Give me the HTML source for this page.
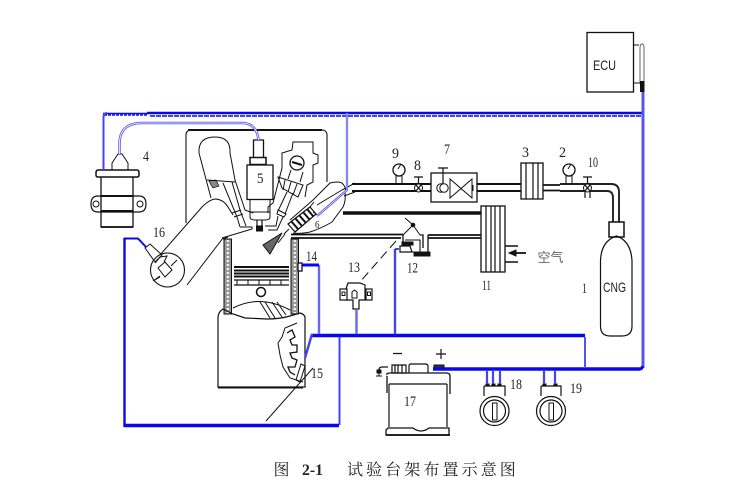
<!DOCTYPE html>
<html><head><meta charset="utf-8"><style>
html,body{margin:0;padding:0;background:#fff;width:752px;height:485px;overflow:hidden}
svg{display:block}
text{font-family:"Liberation Serif","Noto Serif CJK SC",serif;fill:#222}
.s{font-family:"Liberation Sans",sans-serif}
</style></head><body>
<svg width="752" height="485" viewBox="0 0 752 485" xmlns="http://www.w3.org/2000/svg">
<g fill="none" stroke="#111" stroke-width="1">
<!-- ECU -->
<rect x="587" y="32.500" width="46.500" height="59.500" stroke-width="1.300"/>
<path d="M633 45h6M633 83h7"/>
<path d="M640 84V48q0-4 2-4t2 4V84" stroke="#666"/>
<!-- engine head outline -->
<path d="M186 223V135q0-5 6-5H322q4 0 5 4V182" stroke-width="1.100"/>
<path d="M188 130H322" stroke-width="2"/>
<!-- ignition coil -->
<path d="M98 170h39q2 0 2 3v2q0 2-2 2H98q-2 0-2-2v-2q0-3 2-3z" stroke-width="1.500"/>
<path d="M101 177V227H133V177" stroke-width="1.300"/>
<path d="M101 227h32" stroke-width="1.800"/>
<path d="M101 196H139q7 0 7 8t-7 8H98q-7 0-7-8t7-8z" stroke-width="1.200"/>
<path d="M101 196h32M101 211h32" stroke-width="2"/>
<circle cx="96" cy="204" r="3"/><circle cx="140" cy="204" r="3"/>
<path d="M112 170V163L118 154H122L128 163V170"/>
<!-- intake bottle + valve stem -->
<path d="M199 153Q198 137 215 137 231 137 230 153L235 180 245 210 253 213"/>
<path d="M199 153 211 198"/>
<path d="M209 181l7-1 3 6-6 2-2-3z" fill="#888" stroke-width=".7"/>
<path d="M207 180 235 182"/>
<path d="M223 183 237 217 240 227M232 182 240 210 246 226"/>
<path d="M232 213l9-3M234 217l9-3" />
<path d="M240 227H252V229L222 238"/>
<!-- intake tube 16 -->
<path d="M160 255 202 207Q210 199 216 199 224 200 228 207L233 215"/>
<path d="M187 285 223 238"/>
<circle cx="167.500" cy="270" r="17" stroke-width="1.100" fill="#fff"/>
<path d="M158 268 165 262 172 270 165 277ZM155 263 160 257 167 256 164 262M177 260 171 266M160 277 153 281 160 276"/>
<path d="M145 248 150 244 162 255 155 262Z"/>
<!-- injector 5 -->
<path d="M253.500 140V157M263.500 140V157M253 140h11" stroke-width="1.300"/>
<path d="M250 157.500h16v7h-16z" stroke-width="1.500"/>
<rect x="247" y="165" width="26" height="34.500" stroke-width="1.300"/>
<path d="M250 199.500V212H270V199.500M250 212v5q0 3 5 3h10q5 0 5-3v-5"/>
<path d="M257 220V229M262 220V229" stroke-width="1.200"/>
<rect x="256.500" y="226" width="6" height="5" fill="#111"/>
<!-- right head detail -->
<path d="M268 213V207L273 203 282 168V153L292 150 293 142H313V153L318 155V163L313 165V182L307 185 305 197"/>
<circle cx="297" cy="163" r="7" stroke-width="1.300"/>
<path d="M292 162l10 3" stroke-width="2"/>
<path d="M291 170 288 179M303 172 300 182"/>
<path d="M278 177 303 185 298 197 282 188ZM285 180 283 190M291 182 288 192M297 184 293 195"/>
<path d="M287 192 278 211M293 193 285 214"/>
<path d="M278 210l8 4-2 3-7-3z"/>
<path d="M278 216 276 226H265M283 217 277 230H268" />
<!-- plug tube 6 -->
<path d="M290 220 313 200 330 183Q338 181 342 183 347 188 345 193 346 201 343 207L332 222Q322 228 310 232 300 234 293 233" />
<path d="M288 224 310 207 316 214 295 232Z" fill="#fff" stroke-width="1.200"/>
<path d="M291 221l7 8M295 218l7 8M299 215l7 8M303 212l7 8M307 209l6 7" stroke-width="2"/>
<path d="M310 207l4-5M313 212l5 3"/>
<path d="M282 233 263 245 270 254Z" fill="#666"/>
<path d="M284 234 289 229M278 243 285 234"/>
<path d="M317 205 342 190 355 183"/>
<path d="M344 196 355 192"/>
<!-- head lower left -->
<path d="M223 239 228 237" />
<!-- cylinder walls -->
<rect x="224" y="239" width="7.500" height="75" fill="#999" stroke-width="1"/>
<rect x="291" y="239" width="7.500" height="75" fill="#999" stroke-width="1"/>
<path d="M227.800 240V313M294.800 240V313" stroke="#fff" stroke-width="2" stroke-dasharray="2 2"/>
<!-- piston -->
<path d="M234 267H289M234 270.500H289M234 273.500H289M234 276.500H289" stroke-width="1.900"/>
<path d="M234 280H289M234 285H289" stroke-width="1.200"/>
<path d="M237 280v5M248 280v5M259 280v5M270 280v5M281 280v5" stroke-width="1"/>
<circle cx="261" cy="292" r="4.500" stroke-width="1.500"/>
<path d="M233 308Q260 294 290 310"/>
<path d="M260 302 270 318M265 302 275 318M272 302 282 317M277 302 286 315"/>
<!-- block -->
<path d="M223 309Q218 312 218 318V387H305V317Q304 314 300 313L290 316Q280 319 267 319L245 318 233 314Z" stroke-width="1.200"/>
<path d="M218 387.500H303" stroke-width="2"/>
<!-- crank -->
<path d="M297 323 285 328 282 337 278 343 280 355 283 367 290 378 303 382"/>
<path d="M287 333 292 330 295 337 290 340 292 345 297 345 297 352 290 353 292 358 297 360 295 367 288 367 290 372 295 375" stroke-width="1.300"/>
<path d="M296 380 301 364 305 366 300 382Z"/>
<path d="M313 368 266 421"/>
<!-- pipes -->
<path d="M352 184H521M352 191H521" stroke-width="1.900"/>
<path d="M543 185H560M543 190.500H560" stroke-width="1.800"/>
<path d="M560 184H611Q619 184 619 192V222M560 191H607Q613 191 613 198V222" stroke-width="1.900" stroke="#222"/>
<rect x="431" y="173" width="46" height="29" stroke-width="1.300" fill="#fff"/>
<path d="M450 179V198L472 179V198Z" fill="#fff"/>
<path d="M473 185V191"/>
<circle cx="441" cy="188" r="4.200" fill="#fff"/><circle cx="444" cy="188" r="4.200" fill="#fff"/>
<path d="M443 168V184M438 168h10" stroke-width="1.200"/>
<rect x="521" y="163" width="22" height="36" stroke-width="1.300" fill="#fff"/>
<path d="M526 163V199M533 163V199M538 163V199" stroke-width="1.200"/>
<!-- gauges -->
<circle cx="399" cy="170" r="6" stroke-width="1.300" fill="#fff"/><path d="M396 176V184M402 176V184M398 169l3-5"/>
<circle cx="569" cy="170" r="6" stroke-width="1.300" fill="#fff"/><path d="M566 176V184M572 176V184M568 169l3-5"/>
<!-- small valves -->
<circle cx="418.500" cy="188" r="4" fill="#fff"/><path d="M416 185l5 6M421 185l-5 6M418.500 177V184M414 177h9" stroke-width="1.200"/>
<circle cx="587.500" cy="188" r="4" fill="#fff"/><path d="M585 185l5 6M590 185l-5 6M587.500 177V184M583 177h9M585 192v6M590 192v6" stroke-width="1.200"/>
<!-- CNG -->
<rect x="609" y="222" width="15" height="15" stroke-width="1.500" fill="#fff"/>
<path d="M600.500 261Q601 241 616.500 236 631 241 632 261V326Q632 336 622 336H610Q600.500 336 600.500 326Z" stroke-width="1.200"/>
<!-- intake lines -->
<path d="M343 213H481" stroke-width="3.600"/>
<path d="M291 234.500H403M291 238H401M428 235H481M428 238H481" stroke-width="1.700"/>
<rect x="481" y="206" width="24" height="66" stroke-width="1.300" fill="#fff"/>
<path d="M486 206V272M491 206V272M495 206V272M500 206V272" stroke-width="1.200"/>
<path d="M505 246H518M505 262H518" stroke-width="1.500"/>
<path d="M526 253H513" stroke-width="1.800"/><path d="M509 253l7-3v6z" fill="#111"/>
<!-- part 12 -->
<path d="M405 218 413 225 403 235M413 225 420 235" stroke-width="1"/>
<circle cx="413" cy="225" r="1.800" fill="#111"/>
<path d="M403 235V243M420 235H423V248M428 235V252" stroke-width="1.300"/>
<path d="M405 240H420V252H412" stroke-width="1.100"/>
<path d="M400 246H410L412 252H400Z" fill="#fff" stroke-width="1.200"/>
<path d="M402 242H413V245H402ZM414 252H430V256H414Z" fill="#111"/>
<!-- 13 -->
<path d="M396 241 359 283" stroke-dasharray="9 5"/>
<path d="M348 283H360L365 285V300H359V309H353V300H346V289Z" stroke-width="1.200" fill="#fff"/>
<rect x="340" y="289" width="7" height="11" fill="#fff" stroke-width="1.200"/><rect x="366" y="289" width="6" height="11" fill="#fff" stroke-width="1.200"/>
<rect x="342" y="292" width="3" height="3.500"/><rect x="367.500" y="292" width="3" height="3.500"/>
<path d="M352 298V292L354.500 290 357 292V298Z"/>
<!-- 14 sensor -->
<rect x="298" y="263" width="4" height="8" stroke-width="1.300" fill="#fff"/>
<!-- battery -->
<path d="M388 367h-6q-3 0-3 3v2" stroke-width="1.200"/>
<rect x="377" y="370" width="4" height="3" fill="#111"/>
<path d="M376 376h6M379 373v3"/>
<path d="M392 365h14v8h-14zM395 365v8M398 365v8M402 365v8" stroke-width="1.200"/>
<path d="M409 373V366q0-2 2-2h14q3 0 3 2v7" stroke-width="1.200"/>
<path d="M434 365h10v3h-10z" fill="#333"/>
<path d="M387 375Q386 373 390 373H446Q450 373 450 376V394M387 376V393" stroke-width="1.300"/>
<path d="M389 384H447M389 384V427M447 384V427" stroke-width="1.200"/>
<path d="M388 428H413Q417 431 421 431T429 428H449V435H386V430Z" stroke-width="1.300"/>
<path d="M386 435H450" stroke-width="1.800"/>
<path d="M393 353.500h9M436 354h10M441 349v10" stroke-width="1.200"/>
<!-- switches -->
<path d="M484 386H505V396M484 386V396" stroke-width="1.200"/>
<circle cx="494.500" cy="411" r="14.500" stroke-width="1.200" fill="#fff"/><circle cx="494.500" cy="411" r="11" stroke-width="1.200"/>
<rect x="492.500" y="403" width="4.500" height="17"/>
<path d="M541 386H561V396M541 386V396" stroke-width="1.200"/>
<circle cx="551" cy="411" r="14.500" stroke-width="1.200" fill="#fff"/><circle cx="551" cy="411" r="11" stroke-width="1.200"/>
<rect x="549" y="403" width="4.500" height="17"/>
<path d="M486 384h3v2h-3zM492 384h3v2h-3zM498 384h3v2h-3zM543 384h3v2h-3zM554 384h3v2h-3z" fill="#111"/>
</g>

<!-- BLUE WIRES -->
<g fill="none" stroke="#0808ee" stroke-linejoin="round">
<path d="M147 113H643" stroke-width="2.400"/>
<path d="M103 113.500H147" stroke-width="1.500"/>
<path d="M104 115H147" stroke-width="1.500" stroke-dasharray="3 1"/>
<path d="M150 116H642" stroke-width="1.500" stroke-dasharray="5 1"/>
<path d="M103.500 170V117Q103.500 113 107 113" stroke-width="2" stroke="#4444ee"/>
<path d="M119.500 154V143Q120 124 140 123H243Q257 124 258.500 140" stroke-width="2.500" stroke="#5a5aee"/>
<path d="M119.500 154V143Q120 124 140 123H243Q257 124 258.500 140" stroke-width=".8" stroke="#fff"/>
<path d="M643 92V368" stroke-width="3" stroke="#5555ee"/>
<path d="M347 113V190L317 216" stroke-width="2.200" stroke="#4444ee"/>
<path d="M347 113V190L317 216" stroke-width=".7" stroke="#fff"/>
<path d="M433 369H640" stroke-width="3.400"/>
<path d="M640 369Q642 369 642.500 366" stroke-width="3"/>
<path d="M311 335.500H585" stroke-width="3.400"/>
<path d="M585 337V368" stroke-width="2" stroke="#5555ee"/>
<path d="M319 265V334" stroke-width="2.400" stroke="#6666ee"/>
<path d="M302 265H319" stroke-width="3"/>
<path d="M356.500 309V334" stroke-width="2.400" stroke="#6666ee"/>
<path d="M395 249V334" stroke-width="2.400" stroke="#4444ee"/>
<path d="M395 249h4" stroke-width="1.500"/>
<path d="M312 334 305 358" stroke-width="2.400" stroke="#4444ee"/>
<path d="M339.500 337V425" stroke-width="2" stroke="#4444ee"/>
<path d="M339 425.500H124" stroke-width="3.400"/>
<path d="M124.500 427V238" stroke-width="2.400"/>
<path d="M124 238.500H138L146 247" stroke-width="2"/>
<path d="M487 370V384M493 370V384M500 370V384M544 370V384M555 370V384" stroke-width="2.200" stroke="#4444ee"/>
</g>
<rect x="640" y="81" width="4.500" height="11" fill="#111"/>

<!-- Labels -->
<g font-size="15">
<text x="143" y="161" textLength="6" lengthAdjust="spacingAndGlyphs">4</text>
<text x="153" y="237" textLength="12" lengthAdjust="spacingAndGlyphs">16</text>
<text x="306" y="261" textLength="11" lengthAdjust="spacingAndGlyphs">14</text>
<text x="348" y="272" textLength="12" lengthAdjust="spacingAndGlyphs">13</text>
<text x="311" y="378" textLength="12" lengthAdjust="spacingAndGlyphs">15</text>
<text x="582" y="293" textLength="5" lengthAdjust="spacingAndGlyphs">1</text>
<text x="522" y="157" textLength="7" lengthAdjust="spacingAndGlyphs">3</text>
<text x="559" y="157" textLength="7" lengthAdjust="spacingAndGlyphs">2</text>
<text x="392" y="158" textLength="7" lengthAdjust="spacingAndGlyphs">9</text>
<text x="414" y="170" textLength="7" lengthAdjust="spacingAndGlyphs">8</text>
<text x="444" y="154" textLength="6" lengthAdjust="spacingAndGlyphs">7</text>
<text x="588" y="167" textLength="10" lengthAdjust="spacingAndGlyphs">10</text>
<text x="482" y="290" textLength="9" lengthAdjust="spacingAndGlyphs">11</text>
<text x="407" y="272.500" textLength="11" lengthAdjust="spacingAndGlyphs">12</text>
<text x="257" y="183" textLength="6.500" lengthAdjust="spacingAndGlyphs">5</text>
<text x="315" y="228" font-size="10" textLength="4.500" lengthAdjust="spacingAndGlyphs">6</text>
<text x="404" y="406" textLength="12" lengthAdjust="spacingAndGlyphs">17</text>
<text x="510" y="389" textLength="12" lengthAdjust="spacingAndGlyphs">18</text>
<text x="570" y="393" textLength="12" lengthAdjust="spacingAndGlyphs">19</text>
</g>
<text class="s" x="593" y="70" font-size="14" textLength="23" lengthAdjust="spacingAndGlyphs">ECU</text>
<text class="s" x="603" y="292" font-size="14" textLength="23" lengthAdjust="spacingAndGlyphs">CNG</text>
<text x="537.500" y="262" font-size="13" style="font-family:'Noto Sans CJK SC',sans-serif;fill:#666">空气</text>
<text x="273.500" y="475" font-size="16">图</text>
<text x="302" y="475" font-size="16" font-weight="bold" textLength="21" lengthAdjust="spacingAndGlyphs">2-1</text>
<text x="347" y="475" font-size="16" letter-spacing="3.100">试验台架布置示意图</text>
</svg>
</body></html>
